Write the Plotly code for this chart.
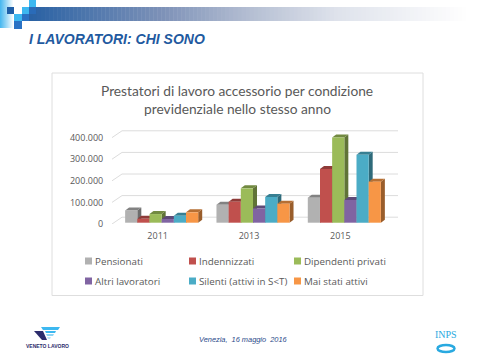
import plotly.graph_objects as go

YEARS = ["2011", "2013", "2015"]
PENSIONATI = [57000, 83000, 116000]
INDENNIZZATI = [18000, 97000, 249000]
DIPENDENTI = [40000, 159000, 394000]
ALTRI = [17000, 66000, 105000]
SILENTI = [32000, 119000, 315000]
MAI_ATTIVI = [48000, 88000, 190000]

NAMES = ["Pensionati", "Indennizzati", "Dipendenti privati",
         "Altri lavoratori", "Silenti (attivi in S&lt;T)", "Mai stati attivi"]
SERIES = [PENSIONATI, INDENNIZZATI, DIPENDENTI, ALTRI, SILENTI, MAI_ATTIVI]
COLORS = ["#b1b1b1", "#c0504d", "#9bbb59", "#8064a2", "#4bacc6", "#f79646"]
GRID_VALUES = [0, 100000, 200000, 300000, 400000]
GRID_LABELS = ["0", "100.000", "200.000", "300.000", "400.000"]

W, H = 480, 360
CAT_PX = 91.33
VAL_PX = 21.6 / 100000
L, R, T, B = 112, 402, 120, 224


def fx(p):
    return p / W


def fy(p):
    return 1 - p / H


def shade(c, f):
    return "#%02x%02x%02x" % tuple(int(int(c[i:i + 2], 16) * f) for i in (1, 3, 5))


def rect(x0, y0, x1, y1, fill, line=None, layer="below"):
    return dict(type="rect", xref="paper", yref="paper", x0=fx(x0), x1=fx(x1), y0=fy(y1), y1=fy(y0),
                fillcolor=fill, line=dict(color=line or fill, width=1 if line else 0), layer=layer)


def poly(pts, fill):
    d = "M" + "L".join(f"{fx(a):.5f},{fy(b):.5f}" for a, b in pts) + "Z"
    return dict(type="path", xref="paper", yref="paper", path=d, fillcolor=fill, line=dict(width=0), layer="below")


fig = go.Figure()

gx = [(122 - 112) / CAT_PX, (398 - 112) / CAT_PX]
for v in GRID_VALUES:
    fig.add_trace(go.Scatter(
        x=[-0.5, -0.5 + gx[0], -0.5 + gx[1]],
        y=[v, v + 6.8 / VAL_PX / 1, v + 6.8 / VAL_PX],
        xaxis="x2", yaxis="y2", mode="lines", line=dict(color="#dcdcdc", width=1),
        hoverinfo="skip", showlegend=False))

SHIFT = 4 / CAT_PX
DX, DY, LIFT = 4 / CAT_PX, 3 / VAL_PX, 1.3 / VAL_PX
BW = 0.8 / 6
for c in range(len(YEARS)):
    for j, vals in enumerate(SERIES):
        v = vals[c]
        lft = c + SHIFT - 0.4 + j * BW
        rgt = lft + BW
        fig.add_trace(go.Scatter(
            x=[rgt, rgt + DX, rgt + DX, rgt, rgt],
            y=[LIFT, LIFT + DY, v + LIFT + DY, v + LIFT, LIFT],
            xaxis="x2", yaxis="y2", mode="lines", fill="toself", line=dict(width=0),
            fillcolor=shade(COLORS[j], 0.62), hoverinfo="skip", showlegend=False))
        fig.add_trace(go.Scatter(
            x=[lft, lft + DX, rgt + DX, rgt, lft],
            y=[v + LIFT, v + LIFT + DY, v + LIFT + DY, v + LIFT, v + LIFT],
            xaxis="x2", yaxis="y2", mode="lines", fill="toself", line=dict(width=0),
            fillcolor=shade(COLORS[j], 0.74), hoverinfo="skip", showlegend=False))

for j, vals in enumerate(SERIES):
    fig.add_trace(go.Bar(x=[0, 1, 2], y=vals, name=NAMES[j], marker=dict(color=COLORS[j], line=dict(width=0)),
                         xaxis="x", yaxis="y", showlegend=False))

shapes = []
STOPS = [(0, (42, 98, 164)), (0.3, (126, 146, 184)), (0.5, (181, 191, 211)), (0.7, (223, 227, 236)), (1, (255, 255, 255))]


def grad(t):
    for (t0, c0), (t1, c1) in zip(STOPS, STOPS[1:]):
        if t <= t1:
            k = (t - t0) / (t1 - t0)
            return "rgb(%d,%d,%d)" % tuple(a + (b - a) * k for a, b in zip(c0, c1))
    return "rgb(255,255,255)"


N = 110
for i in range(N):
    a = 29 + (470 - 29) * i / N
    b = 29 + (470 - 29) * (i + 1) / N + 0.5
    shapes.append(rect(a, 7, b, 21, grad(i / (N - 1))))
for i in range(14):
    t = i / 13
    col = "rgb(%d,%d,%d)" % (75 + 180 * t, 185 + 70 * t, 240 + 15 * t)
    shapes.append(rect(i, 0, i + 1.2, 28, col))
for (a, b, c, d, col) in [(7, 7, 14, 14, "#1f5fa8"), (14, 14, 22, 21, "#3db8f0"), (14, 21, 22, 29, "#2a72c4"),
                          (22, 7, 29, 14, "#3db8f0"), (22, 14, 29, 21, "#2a72c4"),
                          (29, 0, 36, 7, "#3db8f0"), (29, 7, 36, 14, "#2a6bb8")]:
    shapes.append(rect(a, b, c, d, col))
shapes.append(rect(52, 73, 423, 295.5, "#ffffff", "#dedede"))
LX = [85, 189, 294]
LY = [261, 281]
for j, col in enumerate(COLORS):
    x = LX[j % 3]
    y = LY[j // 3]
    shapes.append(rect(x, y - 3.5, x + 7, y + 3.5, col, layer="above"))
shapes.append(poly([(34, 331), (43, 331), (47, 340), (42, 340)], "#2c2c6c"))
shapes.append(poly([(41, 327), (60, 327), (58, 330), (43, 330)], "#3db8f0"))
shapes.append(poly([(45, 331), (56, 331), (55, 333), (46, 333)], "#3db8f0"))
shapes.append(poly([(46, 334), (54, 334), (53, 336), (47, 336)], "#8fd6f5"))
shapes.append(poly([(47, 337), (51, 337), (50, 339), (48, 339)], "#bfe7f9"))
shapes.append(dict(type="circle", xref="paper", yref="paper", x0=fx(437.5), x1=fx(454.5), y0=fy(352), y1=fy(345),
                   fillcolor="#ffffff", line=dict(color="#29a9e0", width=2.5), layer="below"))

ann = []


def text(x, y, s, size, color, family="Liberation Sans", anchor="left"):
    ann.append(dict(xref="paper", yref="paper", x=fx(x), y=fy(y), text=s, showarrow=False,
                    xanchor=anchor, yanchor="middle", font=dict(size=size, color=color, family=family)))


text(27, 39, "<b><i>I LAVORATORI: CHI SONO</i></b>", 14, "#1f5aa0")
text(237, 90, "Prestatori di lavoro accessorio per condizione", 13.75, "#595959", "Lato", "center")
text(237, 108, "previdenziale nello stesso anno", 13.75, "#595959", "Lato", "center")
for j, n in enumerate(NAMES):
    text(LX[j % 3] + 8, LY[j // 3], n, 9.8, "#595959", "Open Sans")
text(243.5, 339, "<i>Venezia,  16 maggio  2016</i>", 7.4, "#2a4a8a", anchor="center")
text(47.5, 346, "<b>VENETO LAVORO</b>", 5, "#2c2c6c", anchor="center")
text(445.5, 334, "INPS", 10, "#29a9e0", "Liberation Serif", "center")

xr = lambda off: [(L - off) / CAT_PX - 0.5, (R - off) / CAT_PX - 0.5]
yr = lambda base: [(base - B) / VAL_PX, (base - T) / VAL_PX]
tickfont = dict(size=9, color="#595959", family="Open Sans")
fig.update_layout(
    width=W, height=H, autosize=False,
    margin=dict(l=0, r=0, t=0, b=0, pad=0, autoexpand=False),
    paper_bgcolor="#ffffff", plot_bgcolor="rgba(0,0,0,0)",
    barmode="group", bargap=0.2, bargroupgap=0,
    showlegend=False, shapes=shapes, annotations=ann,
    xaxis2=dict(domain=[fx(L), fx(R)], range=xr(112), tickvals=[0, 1, 2], ticktext=YEARS, showgrid=False,
                zeroline=False, showline=False, ticks="outside", ticklen=3, tickcolor="rgba(0,0,0,0)",
                tickfont=tickfont, anchor="y2"),
    yaxis2=dict(domain=[fy(B), fy(T)], range=yr(224), tickvals=GRID_VALUES, ticktext=GRID_LABELS, showgrid=False,
                zeroline=False, showline=False, ticks="outside", ticklen=6, tickcolor="rgba(0,0,0,0)",
                tickfont=tickfont, anchor="x2"),
    xaxis=dict(overlaying="x2", range=xr(116), visible=False, anchor="y"),
    yaxis=dict(overlaying="y2", range=yr(222.7), visible=False, anchor="x"),
)
CSS = "margin:0;padding:0;width:480px;height:360px;overflow:hidden;"
fig.write_html("out.html", config=dict(displayModeBar=False),
               post_script=("document.documentElement.style.cssText='" + CSS + "';"
                            "document.body.style.cssText='" + CSS + "';"
                            "var g=document.querySelector('.plotly-graph-div');"
                            "g.style.position='absolute';g.style.left='0';g.style.top='0';"))
